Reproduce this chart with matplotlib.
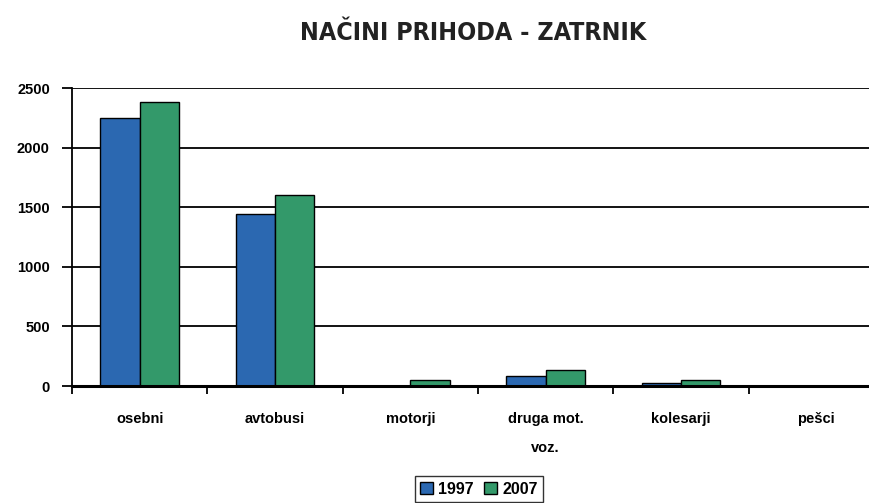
import matplotlib.pyplot as plt
import numpy as np

# data
categories = ['osebni', 'avtobusi', 'motorji', 'druga mot.\nvoz.', 'kolesarji', 'pešci']
vals_1997 = [2245, 1440, 0, 82, 25, 0]
vals_2007 = [2380, 1600, 52, 135, 50, 0]
series_labels = ['1997', '2007']
yticks = [0, 500, 1000, 1500, 2000, 2500]

c1997 = '#2B68B1'
c2007 = '#33996A'

fig = plt.figure(figsize=(8.69, 5.03), dpi=100)
ax = fig.add_axes([72/869, 1-386/503, (884-72)/869, (386-88)/503])

x = np.arange(len(categories))
w = 0.29
b1 = ax.bar(x - w/2, vals_1997, w, color=c1997, edgecolor='black', linewidth=1, zorder=3, label=series_labels[0])
b2 = ax.bar(x + w/2, vals_2007, w, color=c2007, edgecolor='black', linewidth=1, zorder=3, label=series_labels[1])

ax.set_xlim(-0.5, len(categories) - 0.5)
ax.set_ylim(0, 2500)
ax.set_yticks(yticks)
ax.set_yticklabels([str(v) for v in yticks], fontsize=10.5, fontweight='bold', family='Liberation Sans')
ax.yaxis.grid(True, color='black', linewidth=1.3, zorder=0)
ax.tick_params(axis='y', length=7, width=1.3, pad=9)

# category labels in the middle, tick marks at group boundaries
ax.set_xticks(x)
ax.set_xticklabels(categories, fontsize=10.5, fontweight='bold', family='Liberation Sans', linespacing=2.3)
ax.tick_params(axis='x', which='major', length=0, pad=19)
ax.set_xticks(np.arange(-0.5, len(categories), 1), minor=True)
ax.tick_params(axis='x', which='minor', length=6, width=1.3, direction='out')
for lab in ax.get_xticklabels():
    lab.set_verticalalignment('top')

for s in ['top', 'right']:
    ax.spines[s].set_visible(False)
ax.spines['left'].set_linewidth(1.3)
ax.spines['bottom'].set_linewidth(2.2)
ax.spines['bottom'].set_zorder(4)

fig.text(0.545, 0.935, 'NAČINI PRIHODA - ZATRNIK', ha='center', va='center',
         fontsize=18, fontweight='bold', fontstretch='condensed', color='#222222',
         family='DejaVu Sans')

leg = fig.legend(handles=[b1, b2], loc='upper center', bbox_to_anchor=(0.551, 1-468/503),
                 ncol=2, frameon=True, fancybox=False, edgecolor='black',
                 prop={'family': 'Liberation Sans', 'weight': 'bold', 'size': 11.5},
                 handlelength=0.8, handleheight=0.8, handletextpad=0.3, columnspacing=0.7,
                 borderpad=0.35)
leg.get_frame().set_linewidth(1)

fig.savefig('out.png', dpi=100)
